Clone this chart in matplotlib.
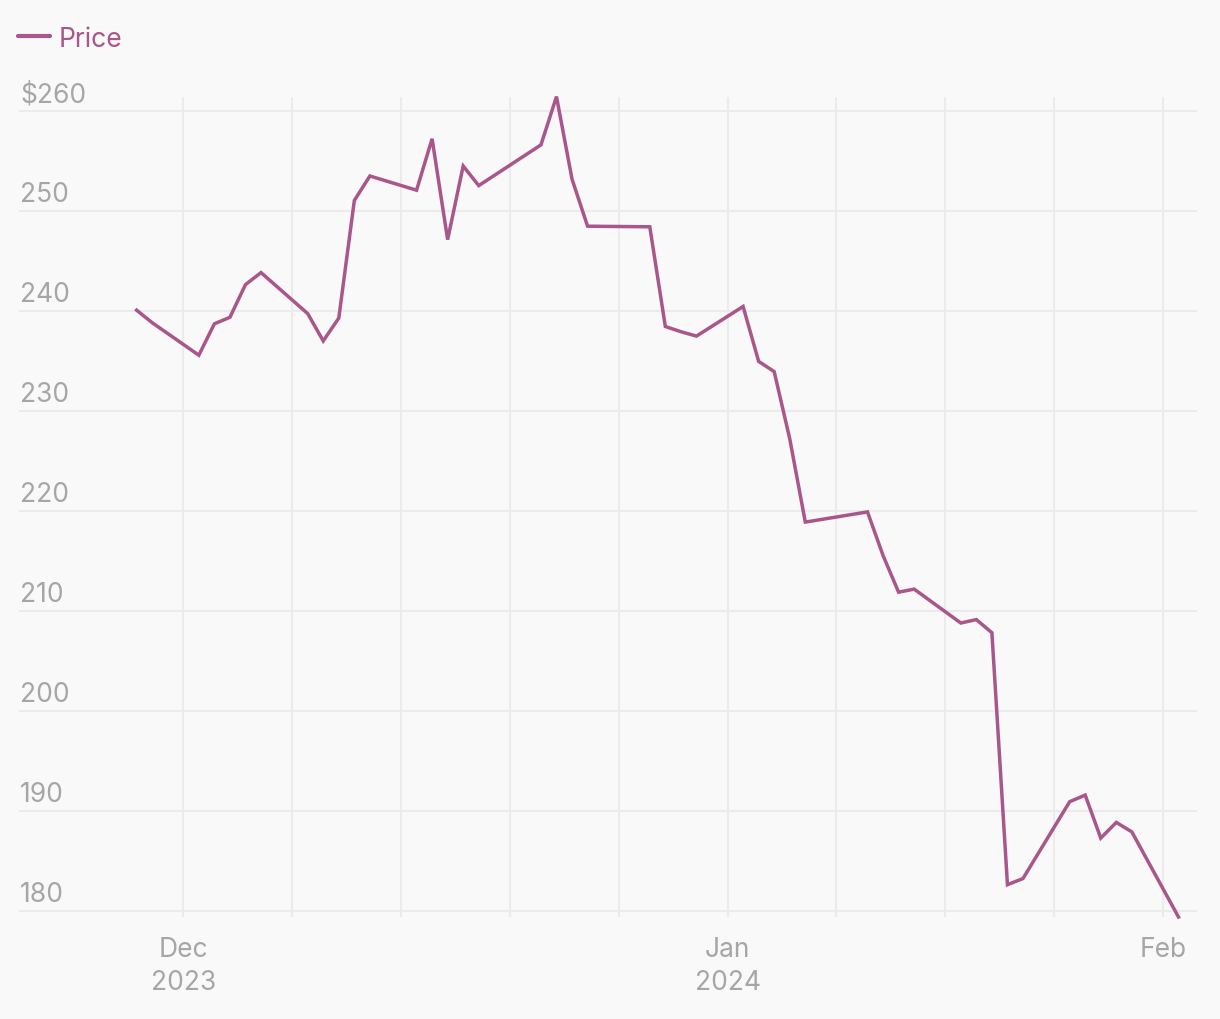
import matplotlib
matplotlib.use("Agg")
import matplotlib.pyplot as plt
import matplotlib.dates as mdates
import matplotlib.transforms as mtransforms
import datetime as dt

dates = [
    "2023-11-30", "2023-12-01", "2023-12-04", "2023-12-05", "2023-12-06", "2023-12-07",
    "2023-12-08", "2023-12-11", "2023-12-12", "2023-12-13", "2023-12-14", "2023-12-15",
    "2023-12-18", "2023-12-19", "2023-12-20", "2023-12-21", "2023-12-22", "2023-12-26",
    "2023-12-27", "2023-12-28", "2023-12-29", "2024-01-02", "2024-01-03", "2024-01-04",
    "2024-01-05", "2024-01-08", "2024-01-09", "2024-01-10", "2024-01-11", "2024-01-12",
    "2024-01-16", "2024-01-17", "2024-01-18", "2024-01-19", "2024-01-22", "2024-01-23",
    "2024-01-24", "2024-01-25", "2024-01-26", "2024-01-29", "2024-01-30", "2024-01-31",
    "2024-02-01", "2024-02-02", "2024-02-05",
]
prices = [
    240.08, 238.83, 235.58, 238.72, 239.37, 242.64,
    243.84, 239.74, 237.01, 239.29, 251.05, 253.50,
    252.08, 257.22, 247.14, 254.50, 252.54, 256.61,
    261.44, 253.18, 248.48, 248.42, 238.45, 237.93,
    237.49, 240.45, 234.96, 233.94, 227.22, 218.89,
    219.91, 215.55, 211.88, 212.19, 208.80, 209.14,
    207.83, 182.63, 183.25, 190.93, 191.59, 187.29,
    188.86, 187.91, 179.40,
]
y_ticks = [180, 190, 200, 210, 220, 230, 240, 250, 260]
y_labels = ["180", "190", "200", "210", "220", "230", "240", "250", "$260"]
week_ticks = ["2023-12-03", "2023-12-10", "2023-12-17", "2023-12-24", "2023-12-31",
              "2024-01-07", "2024-01-14", "2024-01-21", "2024-01-28", "2024-02-04"]
month_labels = {"2023-12-03": ("Dec", "2023"), "2024-01-07": ("Jan", "2024"),
                "2024-02-04": ("Feb", "")}

LINE = "#a9568a"
TXT = "#a6a6a6"
GRID = "#ebebeb"
BG = "#f9f9f9"
FONT = ["Inter", "DejaVu Sans"]

plt.rcParams["font.family"] = FONT

W, H = 1220, 1020
fig = plt.figure(figsize=(W / 100, H / 100), dpi=100, facecolor=BG)
ax = fig.add_axes([20 / W, (H - 912) / H, (1196 - 20) / W, (912 - 98) / H], facecolor=BG)

xd = [mdates.date2num(dt.datetime.fromisoformat(d)) for d in dates]
tx = [mdates.date2num(dt.datetime.fromisoformat(d)) for d in week_ticks]

ax.set_ylim(180, 261.4)
ax.set_xlim(mdates.date2num(dt.datetime(2023, 11, 22, 12)), mdates.date2num(dt.datetime(2024, 2, 6, 3)))

for y in y_ticks:
    ax.axhline(y, color=GRID, lw=1.5, zorder=1, clip_on=False)
for x in tx:
    ax.axvline(x, color=GRID, lw=1.5, zorder=1)

ax.plot(xd, prices, color=LINE, lw=2.5, zorder=3, clip_on=False, solid_joinstyle="miter")

for s in ax.spines.values():
    s.set_visible(False)
ax.set_yticks([])
ax.set_xticks(tx)
ax.set_xticklabels([])
ax.tick_params(axis="x", length=4.5, width=1.5, color=GRID, direction="out")

# y labels above grid lines
ytrans = mtransforms.blended_transform_factory(ax.transAxes, ax.transData)
for y, lab in zip(y_ticks, y_labels):
    ax.annotate(lab, xy=(0, y), xycoords=ytrans, xytext=(0, 7), textcoords="offset points",
                ha="left", va="baseline", fontsize=19, color=TXT)

# x labels
xtrans = mtransforms.blended_transform_factory(ax.transData, ax.transAxes)
for d, (m, yr) in month_labels.items():
    x = mdates.date2num(dt.datetime.fromisoformat(d))
    ax.annotate(m, xy=(x, 0), xycoords=xtrans, xytext=(0, -32.5), textcoords="offset points",
                ha="center", va="baseline", fontsize=19, color=TXT)
    if yr:
        ax.annotate(yr, xy=(x, 0), xycoords=xtrans, xytext=(0, -56.5), textcoords="offset points",
                    ha="center", va="baseline", fontsize=19, color=TXT)

# legend
fig.add_artist(plt.Line2D([18 / W, 50 / W], [(H - 37) / H] * 2, color=LINE, lw=3,
                          solid_capstyle="round"))
fig.text(59 / W, (H - 47) / H, "Price", color=LINE, fontsize=19, ha="left", va="baseline")

fig.savefig("out.png", dpi=100, facecolor=BG)
